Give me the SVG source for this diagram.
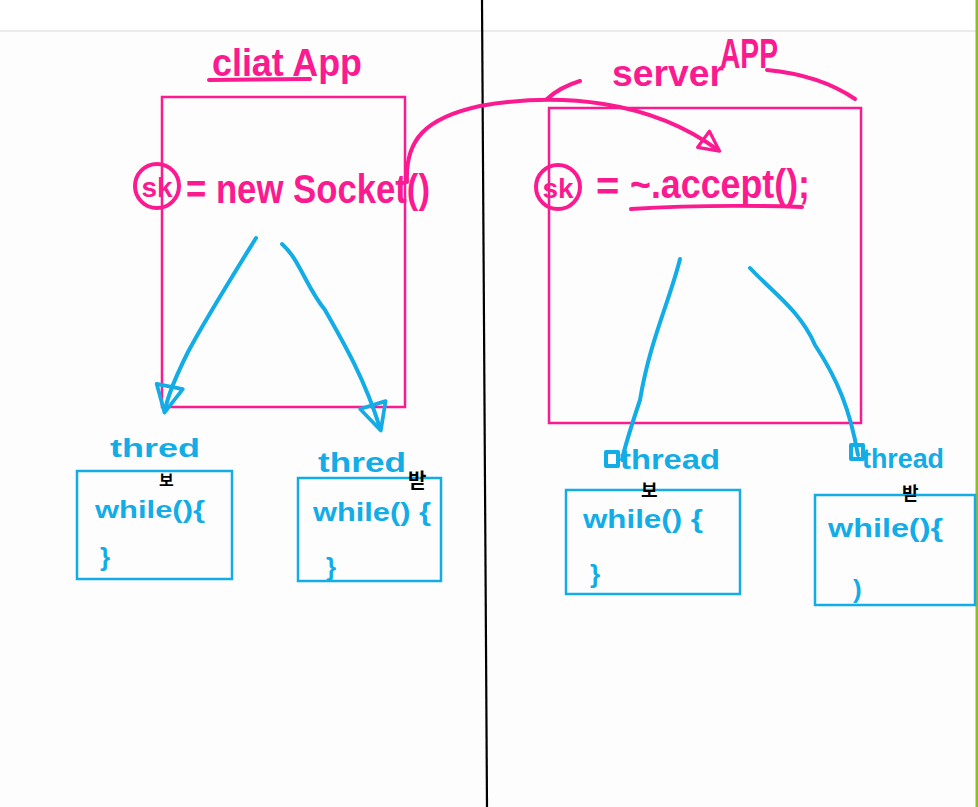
<svg xmlns="http://www.w3.org/2000/svg" width="978" height="807" viewBox="0 0 978 807">
<defs>
<style>
.pk{fill:none;stroke:#fb1a8f;stroke-width:2.5}
.pks{fill:none;stroke:#fb1a8f;stroke-width:4;stroke-linecap:round;stroke-linejoin:round}
.bl{fill:none;stroke:#12ace6;stroke-width:2.5}
.bls{fill:none;stroke:#12ace6;stroke-width:4;stroke-linecap:round;stroke-linejoin:round}
.tp{fill:#fb1a8f;font-family:"Liberation Sans",Arial,sans-serif;font-weight:bold}
.tb{fill:#12ace6;font-family:"Liberation Sans",Arial,sans-serif;font-weight:bold}
.tk{fill:#000;font-family:"Noto Sans CJK KR",sans-serif;font-weight:bold}
</style>
<marker id="hp" viewBox="0 0 12 12" refX="10" refY="6" markerWidth="6" markerHeight="6" orient="auto" markerUnits="strokeWidth">
<path d="M1,1 L11,6 L1,11 Z" fill="none" stroke="#fb1a8f" stroke-width="1.6" stroke-linejoin="round"/>
</marker>
<marker id="hb" viewBox="0 0 12 12" refX="10" refY="6" markerWidth="8" markerHeight="8" orient="auto" markerUnits="strokeWidth">
<path d="M1,1 L11,6 L1,11 Z" fill="none" stroke="#12ace6" stroke-width="1.4" stroke-linejoin="round"/>
</marker>
</defs>
<rect width="978" height="807" fill="#fdfdfd"/>
<rect width="978" height="31" fill="#ffffff"/>
<line x1="0" y1="31" x2="976" y2="31" stroke="#ebebeb" stroke-width="2"/>
<line x1="482" y1="0" x2="487" y2="807" stroke="#000" stroke-width="2.2"/>
<line x1="977" y1="0" x2="977" y2="807" stroke="#8dbd2c" stroke-width="3"/>

<g id="client-app">
<rect class="pk" x="162" y="97" width="243" height="310"/>
<text class="tp" x="212" y="76" font-size="38" textLength="150" lengthAdjust="spacingAndGlyphs">cliat App</text>
<path class="pks" d="M209,80 L310,79"/>
<circle class="pks" cx="157" cy="186" r="22"/>
<text class="tp" x="157" y="197" font-size="28" text-anchor="middle">sk</text>
<text class="tp" x="186" y="203" font-size="40" textLength="244" lengthAdjust="spacingAndGlyphs">= new Socket()</text>
</g>

<g id="server-app">
<rect class="pk" x="549" y="108" width="312" height="315"/>
<text class="tp" x="612" y="86" font-size="36" textLength="112" lengthAdjust="spacingAndGlyphs">server</text>
<text class="tp" x="720" y="68" font-size="42" textLength="58" lengthAdjust="spacingAndGlyphs">APP</text>
<path class="pks" d="M547,99 Q560,87 580,81"/>
<path class="pks" d="M767,70 Q820,75 855,99"/>
<circle class="pks" cx="558" cy="187" r="22"/>
<text class="tp" x="558" y="198" font-size="28" text-anchor="middle">sk</text>
<text class="tp" x="596" y="200" font-size="40">=</text>
<text class="tp" x="630" y="198" font-size="40" textLength="180" lengthAdjust="spacingAndGlyphs">~.accept();</text>
<path class="pks" d="M631,209 Q710,204 802,207"/>
</g>

<g id="client-thread-send">
<rect class="bl" x="77" y="471" width="155" height="108"/>
<text class="tb" x="110" y="457" font-size="26" textLength="90" lengthAdjust="spacingAndGlyphs">thred</text>
<text class="tk" x="159" y="486" font-size="16">보</text>
<text class="tb" x="95" y="518" font-size="24" textLength="110" lengthAdjust="spacingAndGlyphs">while(){</text>
<text class="tb" x="100" y="566" font-size="26">}</text>
</g>

<g id="client-thread-recv">
<rect class="bl" x="298" y="478" width="143" height="103"/>
<text class="tb" x="318" y="472" font-size="28" textLength="88" lengthAdjust="spacingAndGlyphs">thred</text>
<text class="tk" x="408" y="488" font-size="20">받</text>
<text class="tb" x="313" y="521" font-size="26" textLength="118" lengthAdjust="spacingAndGlyphs">while() {</text>
<text class="tb" x="326" y="576" font-size="26">}</text>
</g>

<g id="server-thread-send">
<rect class="bl" x="566" y="490" width="174" height="104"/>
<rect class="bls" x="606" y="452" width="12" height="14" stroke-width="3"/>
<text class="tb" x="620" y="469" font-size="28" textLength="100" lengthAdjust="spacingAndGlyphs">thread</text>
<text class="tk" x="641" y="497" font-size="18">보</text>
<text class="tb" x="583" y="528" font-size="26" textLength="120" lengthAdjust="spacingAndGlyphs">while() {</text>
<text class="tb" x="590" y="583" font-size="26">}</text>
</g>

<g id="server-thread-recv">
<rect class="bl" x="815" y="495" width="160" height="110"/>
<rect class="bls" x="851" y="445" width="12" height="14" stroke-width="3"/>
<text class="tb" x="862" y="468" font-size="28" textLength="82" lengthAdjust="spacingAndGlyphs">thread</text>
<text class="tk" x="902" y="500" font-size="18">받</text>
<text class="tb" x="828" y="537" font-size="26" textLength="115" lengthAdjust="spacingAndGlyphs">while(){</text>
<text class="tb" x="853" y="598" font-size="26">)</text>
</g>

<g id="connectors">
<path class="pks" d="M407,182 C405,140 425,118 480,106 C560,92 650,100 718,150" marker-end="url(#hp)"/>
<path class="bls" d="M256,238 C230,280 205,320 188,352 C175,378 168,395 165,410" marker-end="url(#hb)"/>
<path class="bls" d="M282,244 C300,260 305,285 325,310 C345,345 365,380 380,428" marker-end="url(#hb)"/>
<path class="bls" d="M680,259 C670,300 650,340 640,400 C630,430 625,445 622,460"/>
<path class="bls" d="M750,268 C770,290 800,310 815,345 C838,380 850,410 858,455"/>
</g>
</svg>
